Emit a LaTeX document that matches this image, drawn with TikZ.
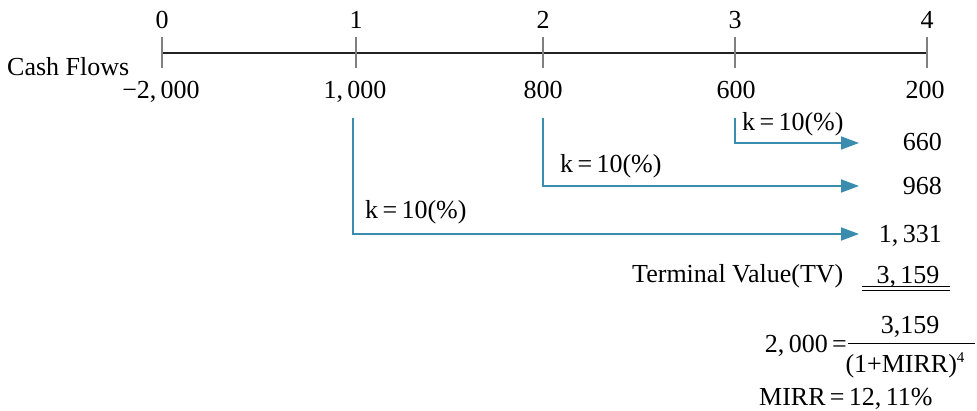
\documentclass[tikz,border=0pt]{standalone}
\usepackage{fontspec}
\setmainfont{Liberation Serif}
\usetikzlibrary{arrows.meta}
\definecolor{flow}{HTML}{3A8DAE}
\definecolor{tick}{HTML}{808080}
\definecolor{axis}{HTML}{222222}
\tikzset{
  txt/.style={anchor=base,inner sep=0pt,font=\fontsize{26}{30}\selectfont},
  flowarrow/.style={draw=flow,line width=1.8pt,-{Triangle[length=18pt,width=13pt]}},
  ticks/.style={draw=tick,line width=1.2pt},
}
\begin{document}
\begin{tikzpicture}[x=1pt,y=-1pt]
\useasboundingbox (0,0) rectangle (977,411);
% axis
\coordinate (t0) at (162,53);
\coordinate (t1) at (356,53);
\coordinate (t2) at (543,53);
\coordinate (t3) at (735,53);
\coordinate (t4) at (927,53);
\draw[axis,line width=1.6pt] (t0) -- (t4);
\foreach \i in {0,...,4}{\draw[ticks] ([yshift=-15pt]t\i) -- ([yshift=16pt]t\i);}
% period labels
\node[txt] (p0) at (162,29) {0};
\node[txt] (p1) at (356,29) {1};
\node[txt] (p2) at (543,29) {2};
\node[txt] (p3) at (735,29) {3};
\node[txt] (p4) at (927,29) {4};
\node[txt,anchor=base west] (cf) at (7,76) {Cash Flows};
% cash flows
\node[txt] (c0) at (161,99) {−2,\,000};
\node[txt] (c1) at (355,99) {1,\,000};
\node[txt] (c2) at (543,99) {800};
\node[txt] (c3) at (736,99) {600};
\node[txt] (c4) at (925,99) {200};
% compounded values
\node[txt,anchor=base east] (v3) at (942,151) {660};
\node[txt,anchor=base east] (v2) at (942,195) {968};
\node[txt,anchor=base east] (v1) at (942,243) {1,\,331};
% arrows
\coordinate (s3) at (735,118);
\coordinate (s2) at (543,118);
\coordinate (s1) at (353,118);
\coordinate (e3) at (859,143);
\coordinate (e2) at (859,186);
\coordinate (e1) at (859,234);
\draw[flowarrow] (s3) |- (e3);
\draw[flowarrow] (s2) |- (e2);
\draw[flowarrow] (s1) |- (e1);
\node[txt,anchor=base west] (k3) at (742,131) {k\,=\,10(\%)};
\node[txt,anchor=base west] (k2) at (560,173) {k\,=\,10(\%)};
\node[txt,anchor=base west] (k1) at (365,219) {k\,=\,10(\%)};
% terminal value
\node[txt,anchor=base west] (tv) at (632,283) {Terminal Value(TV)};
\node[txt] (tvv) at (908,284) {3,\,159};
\coordinate (u1) at (862,291);
\coordinate (u2) at (950,291);
\draw[line width=1pt] (u1) -- (u2);
\draw[line width=1pt] ([yshift=4pt]u1) -- ([yshift=4pt]u2);
% equation
\node[txt,anchor=base east] (lhs) at (847,353) {2,\,000\,=};
\node[txt] (num) at (910,334) {3,159};
\node[txt] (den) at (905,373) {(1+MIRR)\raisebox{10pt}{\fontsize{15}{17}\selectfont 4}};
\coordinate (b1) at (848,343);
\coordinate (b2) at (975,343);
\draw[line width=0.9pt] (b1) -- (b2);
\node[txt,anchor=base west] (mirr) at (759,406) {MIRR\,=\,12,\,11\%};
\end{tikzpicture}
\end{document}
